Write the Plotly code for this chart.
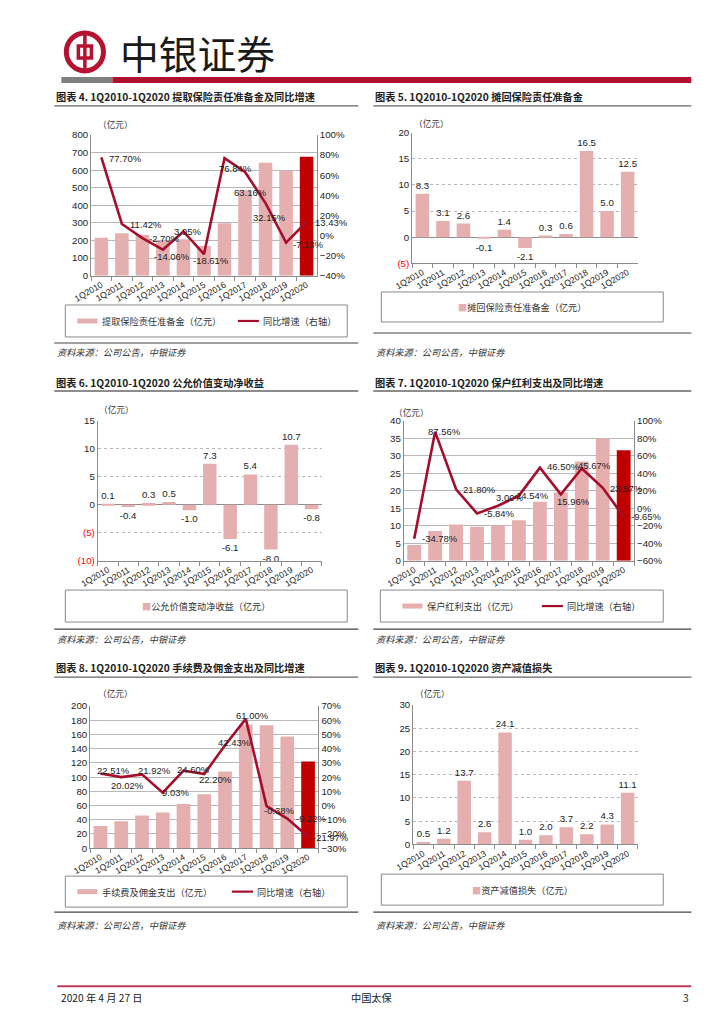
import plotly.graph_objects as go

W, H = 724, 1024
PINK = "#E6AFAF"
DARK = "#C00000"
LINE = "#A50F2D"
CJK = "Noto Sans CJK SC"
NUM = "Liberation Sans, Arial, sans-serif"

# ---------------- data ----------------
cats = ["1Q2010", "1Q2011", "1Q2012", "1Q2013", "1Q2014", "1Q2015",
        "1Q2016", "1Q2017", "1Q2018", "1Q2019", "1Q2020"]

reserve_draw = [216, 241, 232, 199, 207, 168, 298, 486, 642, 596, 676]
reserve_draw_yoy = [77.70, 11.42, -2.70, -14.06, 3.95, -18.61, 76.84, 63.16, 32.15, -7.13, 13.43]
reserve_ceded = [8.3, 3.1, 2.6, -0.1, 1.4, -2.1, 0.3, 0.6, 16.5, 5.0, 12.5]
fair_value = [0.1, -0.4, 0.3, 0.5, -1.0, 7.3, -6.1, 5.4, -8.0, 10.7, -0.8]
dividend = [4.5, 8.5, 10.4, 9.7, 10.1, 11.6, 16.9, 19.5, 28.4, 35.0, 31.6]
dividend_yoy = [-34.78, 87.56, 21.80, -5.84, 3.00, 14.54, 46.50, 15.96, 45.67, 23.57, -9.65]
commission = [31, 38, 46, 50, 62, 76, 108, 174, 173, 157, 122]
commission_yoy = [22.51, 20.02, 21.92, 9.03, 24.60, 22.20, 42.43, 61.00, -0.38, -9.22, -21.97]
impairment = [0.5, 1.2, 13.7, 2.6, 24.1, 1.0, 2.0, 3.7, 2.2, 4.3, 11.1]

titles = [
    "图表 4. 1Q2010-1Q2020 提取保险责任准备金及同比增速",
    "图表 5. 1Q2010-1Q2020 摊回保险责任准备金",
    "图表 6. 1Q2010-1Q2020 公允价值变动净收益",
    "图表 7. 1Q2010-1Q2020 保户红利支出及同比增速",
    "图表 8. 1Q2010-1Q2020 手续费及佣金支出及同比增速",
    "图表 9. 1Q2010-1Q2020 资产减值损失",
]
source_text = "资料来源：公司公告，中银证券"
unit_text = "（亿元）"

# label offsets (pixels) for line labels
off1 = [(23, -1), (23, -1), (21, 0), (9, -7), (4, 0), (7, -6), (11, -10), (5, -20), (4, -14), (22, -2), (24, -1)]
off4 = [(25, 0), (9, 0), (23, 0), (22, 0), (11, 8), (13, 0), (23, 1), (12, -7), (12, 3), (23, -1), (22, 0)]
off5 = [(13, 3), (6, -8), (12, 4), (12, 0), (10, 1), (11, -5), (9, 3), (7, 3), (13, -4), (24, 0), (22, -1)]

# screen placement correction (measured): screen = A + B * page
AX, BX = 26.8, 0.972
AY, BY = 14.1, 0.989
FS = 1.02  # font compensation


def fx(p):
    return ((p - AX) / BX) / W


def fy(p):
    return 1 - ((p - AY) / BY) / H


def fs(s):
    return s * FS


def xax(x0, x1, anchor):
    return dict(domain=[fx(x0), fx(x1)], anchor=anchor, type="category",
                range=[-0.5, 10.5], showline=True, linecolor="#8c8c8c", linewidth=1,
                ticks="outside", tickson="boundaries", ticklen=4, tickcolor="#8c8c8c",
                tickangle=-30, tickfont=dict(family=NUM, size=fs(8.5), color="#222"),
                showgrid=False, fixedrange=True)


def yax(anchor, top, bot, rng, dtick, dash="solid", tickvals=None, ticktext=None, zeroline=False):
    d = dict(domain=[fy(bot), fy(top)], anchor=anchor, range=rng, dtick=dtick,
             showline=True, linecolor="#8c8c8c", linewidth=1,
             showgrid=True, gridcolor="#b8b8b8", griddash=dash, gridwidth=1,
             ticks="", tickfont=dict(family=NUM, size=fs(9.5), color="#222"),
             zeroline=zeroline, zerolinecolor="#8c8c8c", zerolinewidth=1, fixedrange=True)
    if tickvals is not None:
        d["tickmode"] = "array"
        d["tickvals"] = tickvals
        d["ticktext"] = ticktext
    return d


def y2ax(overlay, rng, dtick):
    return dict(overlaying=overlay, side="right", anchor=overlay.replace("y", "x"),
                range=rng, dtick=dtick, ticksuffix="%", showgrid=False, zeroline=False,
                showline=True, linecolor="#8c8c8c", linewidth=1, ticks="",
                tickfont=dict(family=NUM, size=fs(9.5), color="#222"), fixedrange=True)


red = lambda s: '<span style="color:#FF0000">' + s + "</span>"

layout = dict(width=W, height=H, margin=dict(l=0, r=0, t=0, b=0), autosize=False,
              paper_bgcolor="white", plot_bgcolor="white", showlegend=False)

layout["xaxis"] = xax(91.7, 316.7, "y")
layout["yaxis"] = yax("x", 135, 275.7, [0, 800], 100)
layout["yaxis7"] = y2ax("y", [-40, 100], 20)

layout["xaxis2"] = xax(411.7, 636.7, "y2")
layout["yaxis2"] = yax("x2", 132.7, 263.3, [-5, 20], 5, dash="dot",
                       tickvals=[-5, 0, 5, 10, 15, 20],
                       ticktext=[red("(5)"), "0", "5", "10", "15", "20"], zeroline=True)

layout["xaxis3"] = xax(98.3, 321.7, "y3")
layout["yaxis3"] = yax("x3", 420.7, 560.7, [-10, 15], 5, dash="dot",
                       tickvals=[-10, -5, 0, 5, 10, 15],
                       ticktext=[red("(10)"), red("(5)"), "0", "5", "10", "15"], zeroline=True)

layout["xaxis4"] = xax(403.3, 633, "y4")
layout["yaxis4"] = yax("x4", 421, 560.7, [0, 40], 5, dash="solid")
layout["yaxis8"] = y2ax("y4", [-60, 100], 20)

layout["xaxis5"] = xax(90.7, 318.3, "y5")
layout["yaxis5"] = yax("x5", 706, 848, [0, 200], 20)
layout["yaxis9"] = y2ax("y5", [-30, 70], 10)

layout["xaxis6"] = xax(412.7, 636.7, "y6")
layout["yaxis6"] = yax("x6", 705, 844.3, [0, 30], 5, dash="dot")

fig = go.Figure(layout=layout)

bar_colors_last = [PINK] * (len(cats) - 1) + [DARK]


def add_bar(vals, xa, ya, colors=None, labels=False):
    kw = {}
    if labels:
        kw = dict(text=[f"{v:.1f}" for v in vals], textposition="outside",
                  textfont=dict(family=NUM, size=fs(9.5), color="#222"),
                  constraintext="none", cliponaxis=False)
    fig.add_trace(go.Bar(x=cats, y=vals, xaxis=xa, yaxis=ya, width=0.66,
                         marker=dict(color=colors if colors else PINK, line=dict(width=0)),
                         hoverinfo="skip", **kw))


def add_line(vals, xa, ya, offs):
    fig.add_trace(go.Scatter(x=cats, y=vals, xaxis=xa, yaxis=ya, mode="lines",
                             line=dict(color=LINE, width=2.6), cliponaxis=False,
                             hoverinfo="skip"))
    for c, v, (dx, dy) in zip(cats, vals, offs):
        fig.add_annotation(x=c, y=v, xref=xa, yref=ya, text=f"{v:.2f}%", showarrow=False,
                           xshift=dx / BX, yshift=dy / BY,
                           font=dict(family=NUM, size=fs(9.3), color="#222"))


add_bar(reserve_draw, "x", "y", bar_colors_last)
add_line(reserve_draw_yoy, "x", "y7", off1)
add_bar(reserve_ceded, "x2", "y2", labels=True)
add_bar(fair_value, "x3", "y3", labels=True)
add_bar(dividend, "x4", "y4", bar_colors_last)
add_line(dividend_yoy, "x4", "y8", off4)
add_bar(commission, "x5", "y5", bar_colors_last)
add_line(commission_yoy, "x5", "y9", off5)
add_bar(impairment, "x6", "y6", labels=True)

shapes = []


def txt(x, y, s, size, anchor="left", family=CJK, color="#222"):
    fig.add_annotation(x=fx(x), y=fy(y), xref="paper", yref="paper", text=s, showarrow=False,
                       xanchor=anchor, yanchor="middle",
                       font=dict(family=family, size=fs(size), color=color))


def hline(x0, x1, y, color="#555", width=1.2):
    shapes.append(dict(type="line", xref="paper", yref="paper", x0=fx(x0), x1=fx(x1),
                       y0=fy(y), y1=fy(y), line=dict(color=color, width=width)))


def rect(x0, y0, x1, y1, fill=None, line="#8a8a8a", lw=1):
    shapes.append(dict(type="rect", xref="paper", yref="paper", x0=fx(x0), x1=fx(x1),
                       y0=fy(y1), y1=fy(y0), fillcolor=fill if fill else "rgba(0,0,0,0)",
                       line=dict(color=line, width=lw)))


# ---------------- header ----------------
shapes.append(dict(type="circle", xref="paper", yref="paper", x0=fx(67), x1=fx(104),
                   y0=fy(71), y1=fy(33), line=dict(color="#B4122F", width=5)))
rect(79, 46, 92, 58, line="#B4122F", lw=3.5)
shapes.append(dict(type="line", xref="paper", yref="paper", x0=fx(85.5), x1=fx(85.5),
                   y0=fy(35), y1=fy(69), line=dict(color="#B4122F", width=3.5)))
txt(119, 52, "中银证券", 38, family=CJK, color="#1a1a1a")
rect(62, 77, 113, 83, fill="#808080", line="#808080", lw=0)
rect(113, 77, 690, 83, fill="#B0102E", line="#B0102E", lw=0)

col_x = [55, 373]
col_end = [358, 690]
title_y = [97, 383, 667]
rule_y = [106, 391, 677]
for r in range(3):
    for c in range(2):
        txt(col_x[c], title_y[r], "<b>" + titles[r * 2 + c] + "</b>", 10)
        hline(col_x[c], col_end[c], rule_y[r], color="#666", width=1.3)

src_line = [(343, 333), (629, 629), (912, 912)]
src_y = [352, 639, 925]
for r in range(3):
    for c in range(2):
        hline(col_x[c], col_end[c], src_line[r][c], color="#444", width=1.2)
        txt(col_x[c] + 1, src_y[r], "<i>" + source_text + "</i>", 9, color="#333")

for (ux, uy) in [(116, 124), (431, 123), (117, 409), (411, 412), (116, 693), (432, 693)]:
    txt(ux, uy, unit_text, 8.5, anchor="center", color="#333")


def legend_two(x0, y0, x1, y1, sw1, t1, sw2, t2):
    rect(x0, y0, x1, y1)
    yc = (y0 + y1) / 2
    rect(sw1, yc - 2.5, sw1 + 20, yc + 2.5, fill=PINK, line=PINK, lw=0)
    txt(sw1 + 23, yc, t1, 9, color="#333")
    hline(sw2, sw2 + 21, yc, color=LINE, width=2.2)
    txt(sw2 + 23, yc, t2, 9, color="#333")


def legend_one(x0, y0, x1, y1, t):
    rect(x0, y0, x1, y1)
    yc = (y0 + y1) / 2
    txt((x0 + x1) / 2, yc, '<span style="color:%s">■</span>' % PINK + t, 9, anchor="center", color="#333")


legend_two(66, 305, 347, 337, 78, "提取保险责任准备金（亿元）", 238, "同比增速（右轴）")
legend_one(381, 292, 662, 322, "摊回保险责任准备金（亿元）")
legend_one(66, 590, 347, 622, "公允价值变动净收益（亿元）")
legend_two(380, 590, 662, 622, 402, "保户红利支出（亿元）", 541, "同比增速（右轴）")
legend_two(66, 876, 347, 907, 78, "手续费及佣金支出（亿元）", 232, "同比增速（右轴）")
legend_one(381, 874, 662, 905, "资产减值损失（亿元）")

hline(58, 690, 986, color="#C03A5A", width=2)
txt(60, 997, "2020 年 4 月 27 日", 10, color="#222")
txt(371, 997, "中国太保", 10, anchor="center", color="#222")
txt(690, 997, "3", 10, anchor="right", color="#222")

fig.update_layout(shapes=shapes)
fig.write_html("out.html")
